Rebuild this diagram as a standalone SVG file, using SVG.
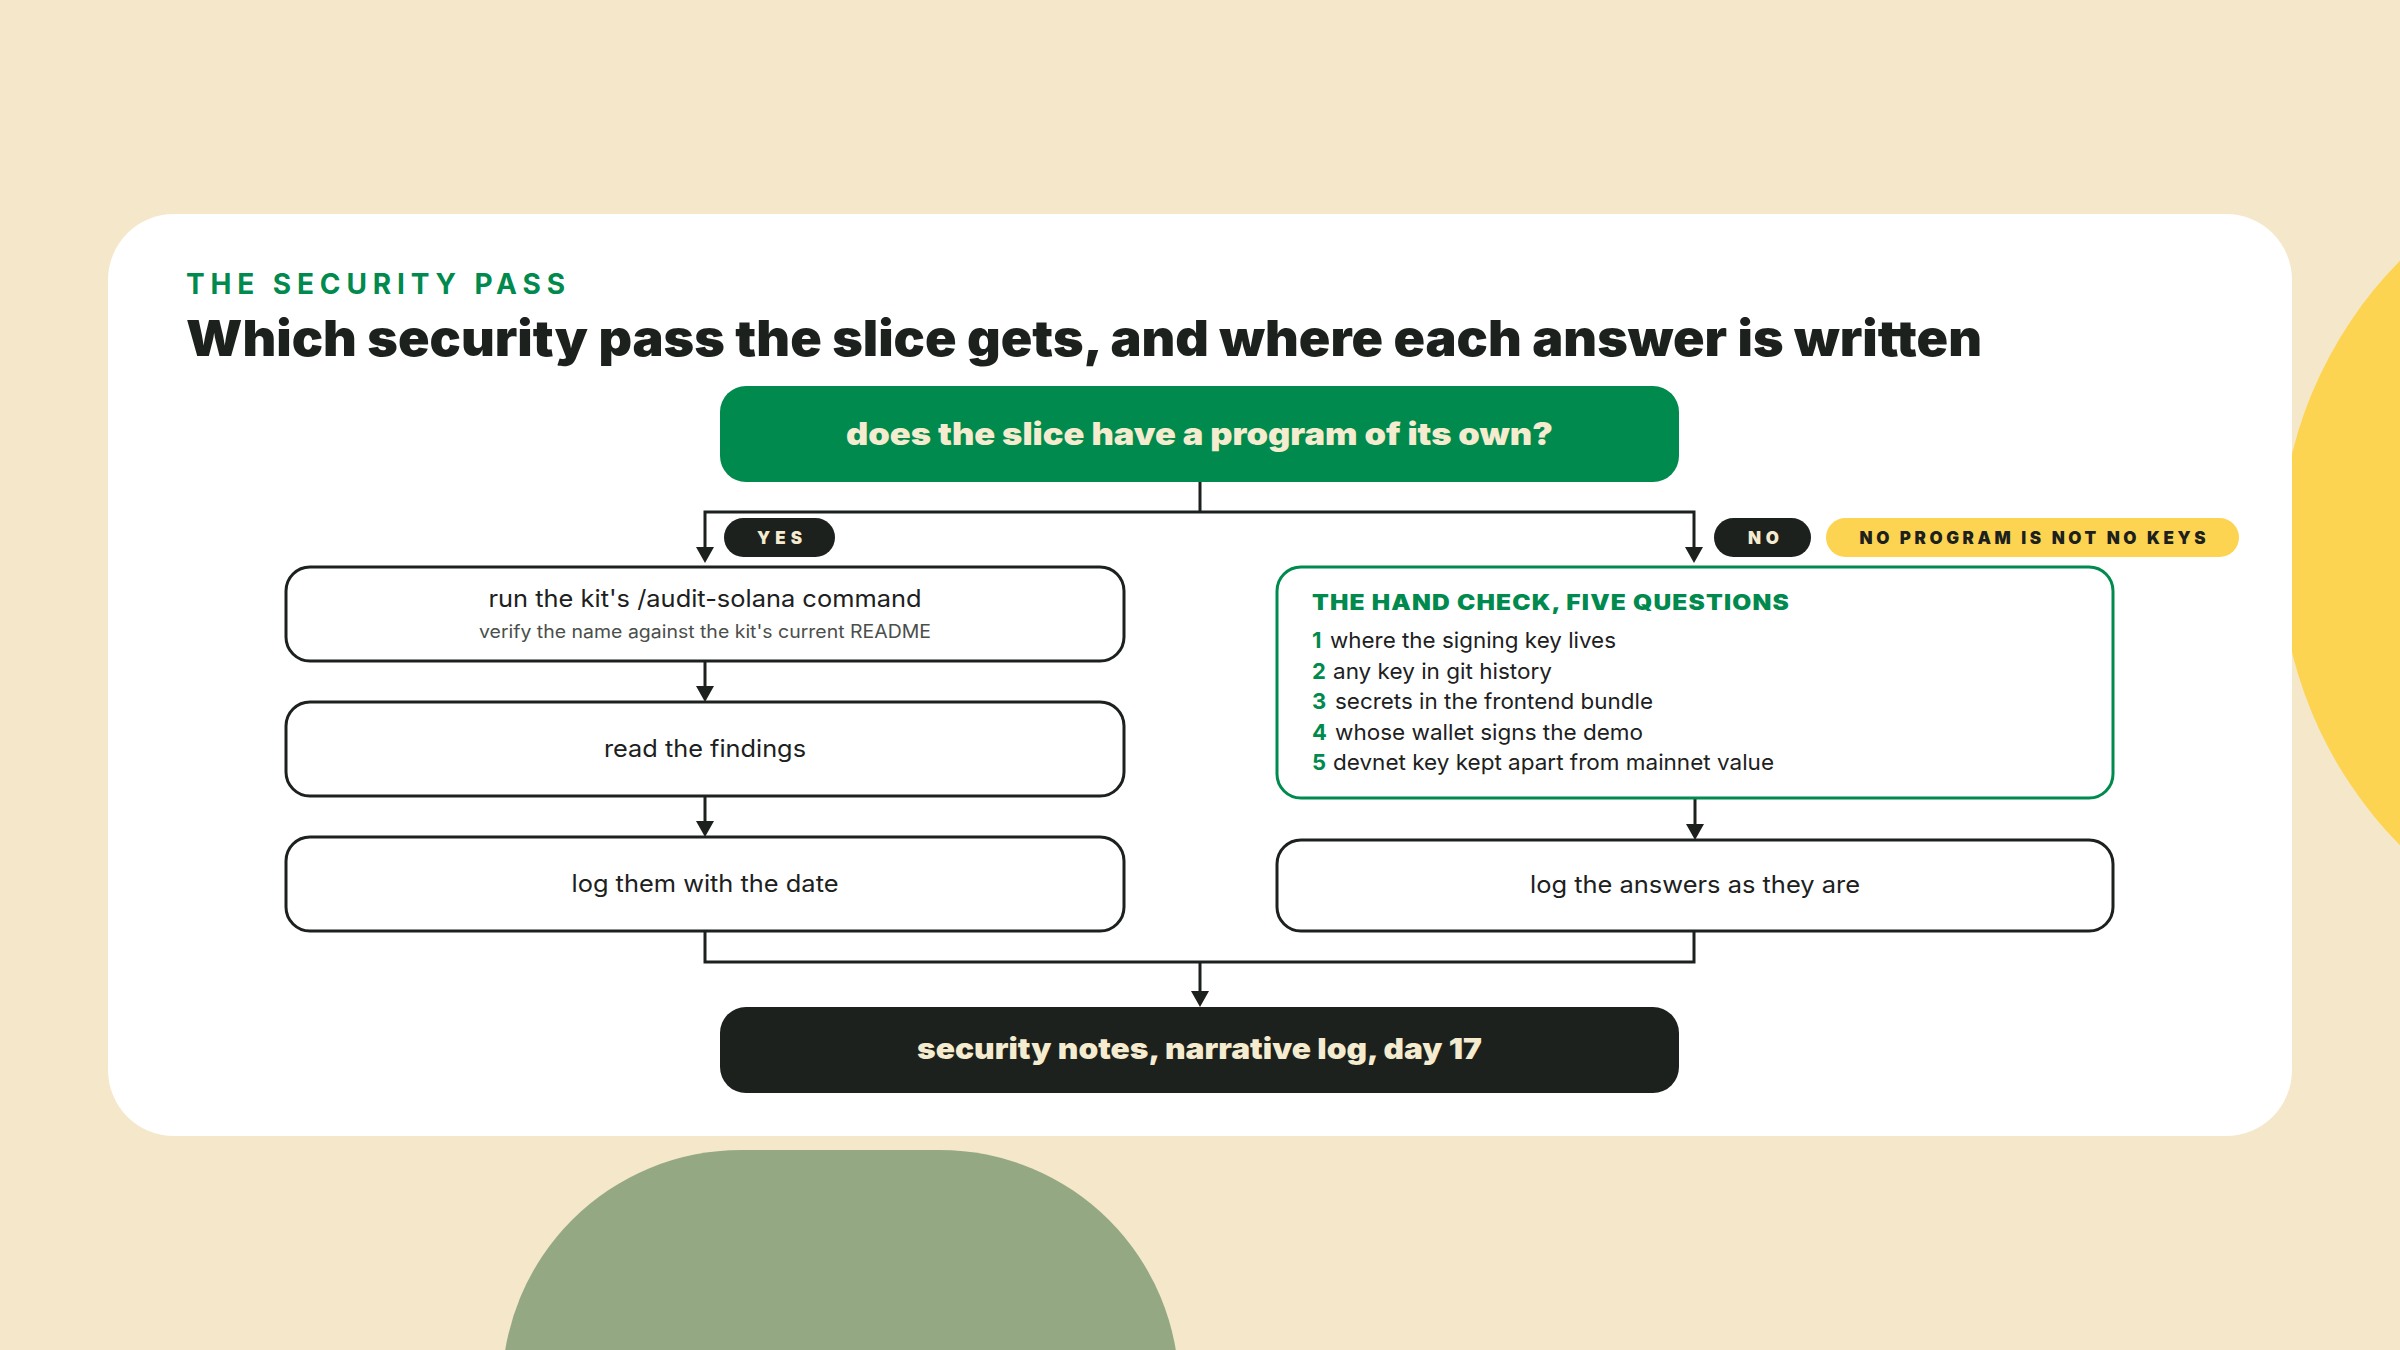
<svg xmlns="http://www.w3.org/2000/svg" width="2400" height="1350" viewBox="0 0 2400 1350">
  <defs>
    <style>
      .heavy { font-family: Inter, "Liberation Sans", sans-serif; font-weight: 900; }
      .body { font-family: Inter, "Liberation Sans", sans-serif; font-weight: 400; fill: #1c211e; }
      .box { fill: #ffffff; stroke: #1c211e; stroke-width: 3; }
      .gbox { fill: #ffffff; stroke: #008a4e; stroke-width: 3; }
      .conn { fill: none; stroke: #1c211e; stroke-width: 3; }
      .pill { fill: #1c211e; }
      .pilltext { font-family: Inter, "Liberation Sans", sans-serif; font-weight: 900; fill: #f5ebcf; font-size: 17px; }
      .num { font-family: Inter, "Liberation Sans", sans-serif; font-weight: 700; fill: #008a4e; font-size: 22px; }
      .item { font-family: Inter, "Liberation Sans", sans-serif; font-weight: 400; fill: #1c211e; font-size: 22px; }
    </style>
    <marker id="arrow" markerUnits="userSpaceOnUse" markerWidth="17" markerHeight="18" refX="0" refY="9" orient="auto" viewBox="0 0 17 18">
      <path d="M0,0 L16,9 L0,18 z" fill="#1c211e"/>
    </marker>
  </defs>

  <!-- background -->
  <rect x="0" y="0" width="2400" height="1350" fill="#f5e7ca"/>
  <circle cx="2696" cy="553" r="416" fill="#fdd451"/>
  <rect x="502" y="1150" width="677" height="500" rx="239" ry="239" fill="#94a983"/>

  <!-- card -->
  <rect x="108" y="214" width="2184" height="922" rx="66" ry="66" fill="#ffffff"/>

  <!-- titles -->
  <g id="titles">
    <text x="186" y="294" class="heavy" font-weight="700" style="font-weight:700" font-size="28" fill="#008a4e" textLength="383" lengthAdjust="spacing" letter-spacing="4">THE SECURITY PASS</text>
    <text x="186" y="356" class="heavy" font-size="50" fill="#1c211e" textLength="1796" lengthAdjust="spacingAndGlyphs">Which security pass the slice gets, and where each answer is written</text>
  </g>

  <!-- connectors -->
  <g id="connectors">
    <path class="conn" d="M1200,482 V512"/>
    <path class="conn" d="M1200,512 H705 V547" marker-end="url(#arrow)"/>
    <path class="conn" d="M1200,512 H1694 V547" marker-end="url(#arrow)"/>
    <path class="conn" d="M705,661 V686" marker-end="url(#arrow)"/>
    <path class="conn" d="M705,796 V821" marker-end="url(#arrow)"/>
    <path class="conn" d="M1695,798 V824" marker-end="url(#arrow)"/>
    <path class="conn" d="M705,931 V962 H1694 V931"/>
    <path class="conn" d="M1200,962 V991" marker-end="url(#arrow)"/>
    <g id="label-yes">
      <rect class="pill" x="724" y="518" width="111" height="39" rx="19.5"/>
      <text class="pilltext" x="779.5" y="543.5" text-anchor="middle" textLength="45" lengthAdjust="spacing">YES</text>
    </g>
    <g id="label-no">
      <rect class="pill" x="1714" y="518" width="97" height="39" rx="19.5"/>
      <text class="pilltext" x="1763.5" y="543.5" text-anchor="middle" textLength="31" lengthAdjust="spacing">NO</text>
    </g>
    <g id="label-note">
      <rect x="1826" y="518" width="413" height="39" rx="19.5" fill="#fdd451"/>
      <text class="pilltext" x="2032.5" y="543.5" text-anchor="middle" style="fill:#1c211e" textLength="346" lengthAdjust="spacing">NO PROGRAM IS NOT NO KEYS</text>
    </g>
  </g>

  <!-- nodes -->
  <g id="node-decision">
    <rect x="720" y="386" width="959" height="96" rx="26" fill="#008a4e"/>
    <text x="1199.5" y="445" class="heavy" font-size="31" fill="#f5ebcf" text-anchor="middle" textLength="707" lengthAdjust="spacingAndGlyphs">does the slice have a program of its own?</text>
  </g>

  <g id="node-audit">
    <rect class="box" x="286" y="567" width="838" height="94" rx="24"/>
    <text class="body" x="705" y="607" font-size="24" text-anchor="middle" textLength="433" lengthAdjust="spacingAndGlyphs">run the kit's /audit-solana command</text>
    <text class="body" x="705" y="638" font-size="18" text-anchor="middle" style="fill:#4a4f4b" textLength="452" lengthAdjust="spacingAndGlyphs">verify the name against the kit's current README</text>
  </g>

  <g id="node-read">
    <rect class="box" x="286" y="702" width="838" height="94" rx="24"/>
    <text class="body" x="705" y="757" font-size="24" text-anchor="middle" textLength="202" lengthAdjust="spacingAndGlyphs">read the findings</text>
  </g>

  <g id="node-log-left">
    <rect class="box" x="286" y="837" width="838" height="94" rx="24"/>
    <text class="body" x="705" y="892" font-size="24" text-anchor="middle" textLength="267" lengthAdjust="spacingAndGlyphs">log them with the date</text>
  </g>

  <g id="node-handcheck">
    <rect class="gbox" x="1277" y="567" width="836" height="231" rx="24"/>
    <text x="1312" y="610" class="heavy" font-size="21" fill="#008a4e" textLength="478" lengthAdjust="spacingAndGlyphs" letter-spacing="1">THE HAND CHECK, FIVE QUESTIONS</text>
    <text class="num" x="1312" y="648">1</text>
    <text class="item" x="1330" y="648" textLength="286" lengthAdjust="spacingAndGlyphs">where the signing key lives</text>
    <text class="num" x="1312" y="678.5">2</text>
    <text class="item" x="1333" y="678.5" textLength="219" lengthAdjust="spacingAndGlyphs">any key in git history</text>
    <text class="num" x="1312" y="709">3</text>
    <text class="item" x="1335" y="709" textLength="318" lengthAdjust="spacingAndGlyphs">secrets in the frontend bundle</text>
    <text class="num" x="1312" y="739.5">4</text>
    <text class="item" x="1335" y="739.5" textLength="308" lengthAdjust="spacingAndGlyphs">whose wallet signs the demo</text>
    <text class="num" x="1312" y="770">5</text>
    <text class="item" x="1333" y="770" textLength="441" lengthAdjust="spacingAndGlyphs">devnet key kept apart from mainnet value</text>
  </g>

  <g id="node-log-right">
    <rect class="box" x="1277" y="840" width="836" height="91" rx="24"/>
    <text class="body" x="1695" y="893" font-size="24" text-anchor="middle" textLength="330" lengthAdjust="spacingAndGlyphs">log the answers as they are</text>
  </g>

  <g id="node-result">
    <rect x="720" y="1007" width="959" height="86" rx="26" fill="#1c211e"/>
    <text x="1199.5" y="1059" class="heavy" font-size="29" fill="#f5ebcf" text-anchor="middle" textLength="565" lengthAdjust="spacingAndGlyphs">security notes, narrative log, day 17</text>
  </g>
</svg>
